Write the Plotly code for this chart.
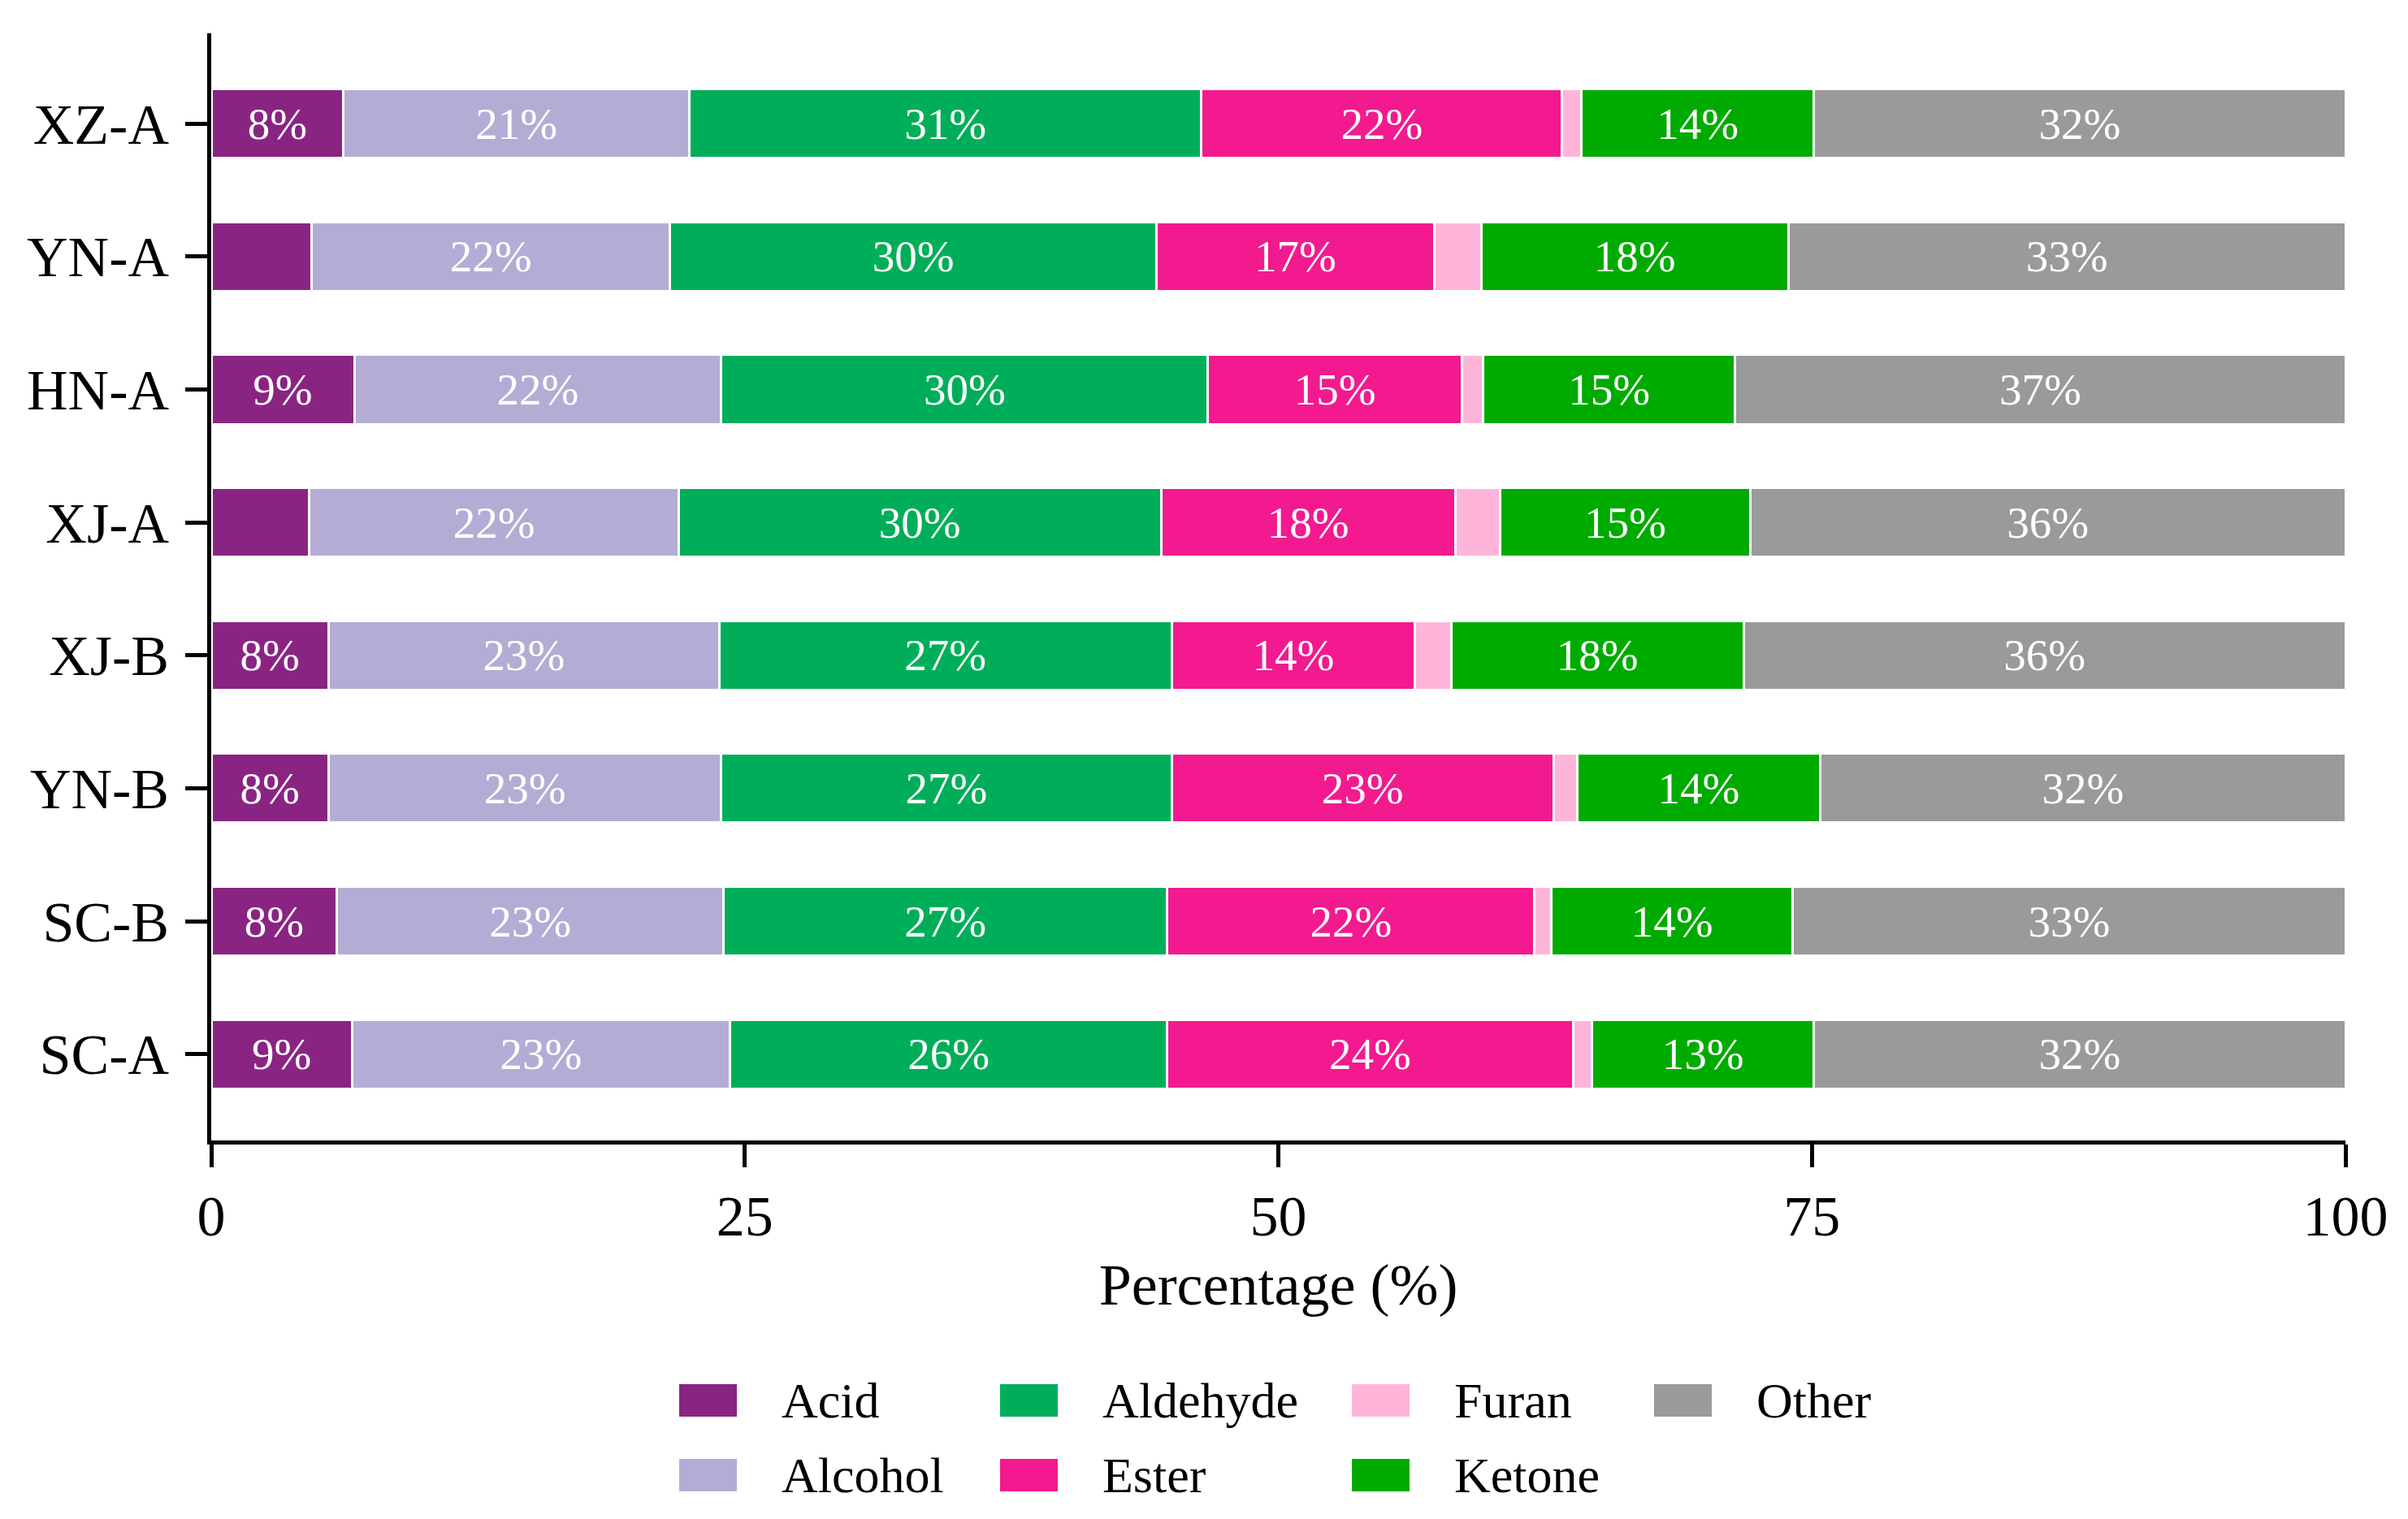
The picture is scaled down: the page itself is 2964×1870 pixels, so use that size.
import plotly.graph_objects as go

samples = ["XZ-A", "YN-A", "HN-A", "XJ-A", "XJ-B", "YN-B", "SC-B", "SC-A"]

# bar lengths (share of the 0-100 axis)
acid = [6.2, 4.7, 6.7, 4.6, 5.5, 5.5, 5.9, 6.6]
alcohol = [16.2, 16.8, 17.2, 17.3, 18.3, 18.4, 18.1, 17.7]
aldehyde = [24.0, 22.8, 22.8, 22.6, 21.2, 21.1, 20.8, 20.5]
ester = [16.9, 13.0, 11.9, 13.8, 11.4, 17.9, 17.2, 19.0]
furan = [0.9, 2.2, 1.0, 2.1, 1.7, 1.1, 0.8, 0.9]
ketone = [10.9, 14.4, 11.8, 11.7, 13.7, 11.4, 11.3, 10.4]
other = [24.9, 26.1, 28.6, 27.9, 28.2, 24.6, 25.9, 24.9]

# printed labels (as shown in the original, not the bar lengths)
acid_lbl = ["8%", "", "9%", "", "8%", "8%", "8%", "9%"]
alcohol_lbl = ["21%", "22%", "22%", "22%", "23%", "23%", "23%", "23%"]
aldehyde_lbl = ["31%", "30%", "30%", "30%", "27%", "27%", "27%", "26%"]
ester_lbl = ["22%", "17%", "15%", "18%", "14%", "23%", "22%", "24%"]
furan_lbl = [""] * 8
ketone_lbl = ["14%", "18%", "15%", "15%", "18%", "14%", "14%", "13%"]
other_lbl = ["32%", "33%", "37%", "36%", "36%", "32%", "33%", "32%"]

groups = ["Acid", "Alcohol", "Aldehyde", "Ester", "Furan", "Ketone", "Other"]
colors = ["#8A2483", "#B4ACD4", "#00AE5A", "#F21A8E", "#FFB5D9", "#00AB00", "#9A9A9A"]

FONT = "Liberation Serif"
W, H = 2964, 1870
L, R, T, B = 252, 85, 33, 474

series = [acid, alcohol, aldehyde, ester, furan, ketone, other]
labels = [acid_lbl, alcohol_lbl, aldehyde_lbl, ester_lbl, furan_lbl, ketone_lbl, other_lbl]

fig = go.Figure()
for name, vals, txt, col in zip(groups, series, labels, colors):
    fig.add_trace(go.Bar(
        name=name, y=samples, x=vals, orientation="h",
        text=txt, textposition="inside", insidetextanchor="middle",
        textangle=0, constraintext="none",
        textfont=dict(family=FONT, size=55, color="white"),
        marker=dict(color=col, line=dict(color="white", width=3)),
        width=0.52, showlegend=False,
    ))


def px_x(p):
    return (p - L) / (W - L - R)


def px_y(p):
    return (H - B - p) / (H - T - B)


# legend drawn by hand so the swatches keep the original size
leg_cols = [["Acid", "Alcohol"], ["Aldehyde", "Ester"], ["Furan", "Ketone"], ["Other"]]
col_left = [828, 1223, 1656, 2028]
row_mid = [1716, 1808]
shapes, notes = [], []
for ci, names in enumerate(leg_cols):
    for ri, nm in enumerate(names):
        c = colors[groups.index(nm)]
        shapes.append(dict(
            type="rect", xref="paper", yref="paper",
            x0=px_x(col_left[ci]), x1=px_x(col_left[ci] + 71),
            y0=px_y(row_mid[ri] + 20), y1=px_y(row_mid[ri] - 20),
            fillcolor=c, line=dict(width=0),
        ))
        notes.append(dict(
            text=nm, xref="paper", yref="paper",
            x=px_x(col_left[ci] + 124), y=px_y(row_mid[ri]),
            xanchor="left", yanchor="middle", showarrow=False,
            font=dict(family=FONT, size=62, color="black"),
        ))

fig.update_layout(
    barmode="stack",
    width=W, height=H,
    margin=dict(l=L, r=R, t=T, b=B, pad=0),
    paper_bgcolor="white", plot_bgcolor="white",
    font=dict(family=FONT, color="black"),
    shapes=shapes, annotations=notes,
)
fig.update_xaxes(
    range=[0, 100], tickvals=[0, 25, 50, 75, 100],
    showgrid=False, zeroline=False,
    showline=True, linecolor="black", linewidth=5,
    ticks="outside", ticklen=28, tickwidth=5, tickcolor="black",
    tickfont=dict(family=FONT, size=70),
    title=dict(text="Percentage (%)", font=dict(family=FONT, size=72), standoff=22),
)
fig.update_yaxes(
    categoryorder="array", categoryarray=samples[::-1],
    range=[-0.65, 7.68],
    showgrid=False, zeroline=False,
    showline=True, linecolor="black", linewidth=5,
    ticks="outside", ticklen=27, tickwidth=5, tickcolor="black",
    tickfont=dict(family=FONT, size=70), ticklabelstandoff=6,
)

fig.write_html("out.html")
